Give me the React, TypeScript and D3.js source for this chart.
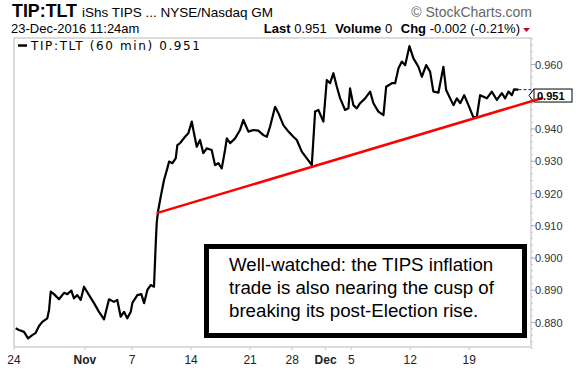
import React from "react";
import * as d3 from "d3";

// trading-day offset from Oct 24 2016 open (hourly bars)
const barPos = [
  0.14, 0.42, 0.85, 1.19, 1.55, 1.84, 2.12, 2.4, 2.82, 2.97, 3.11, 3.39, 3.81, 4.24, 4.52, 4.86, 5.08, 5.36, 5.65, 5.93,
  6.36, 6.78, 7.2, 7.63, 8.05, 8.47, 8.75, 9.04, 9.32, 9.6, 9.89, 10.03, 10.45, 10.79, 11.02, 11.3, 11.58, 11.86, 12.01, 12.09,
  12.2, 12.43, 12.71, 12.99, 13.14, 13.42, 13.7, 13.84, 14.07, 14.49, 14.77, 15.06, 15.25, 15.48, 15.76, 16.04, 16.33, 16.75, 17.03, 17.31,
  17.6, 17.88, 18.03, 18.31, 18.73, 19.15, 19.43, 19.86, 20.28, 20.7, 21.13, 21.42, 21.69, 22.12, 22.4, 22.82, 23.25, 23.67, 23.96, 24.38,
  24.81, 25.23, 25.51, 25.79, 26.21, 26.5, 26.78, 27.06, 27.35, 27.63, 28.05, 28.33, 28.47, 28.75, 29.04, 29.32, 29.75, 30.17, 30.45, 30.87,
  31.3, 31.53, 32.01, 32.29, 32.57, 32.86, 33.14, 33.5, 33.84, 34.26, 34.55, 34.92, 35.25, 35.53, 35.96, 36.38, 36.61, 36.95, 37.23, 37.52,
  37.8, 38.14, 38.5, 38.92, 39.21, 39.49, 40.06, 40.48, 40.91, 41.33, 41.61, 41.89, 42.18, 42.37, 42.74,
];
const closes = [
  0.8782, 0.8777, 0.8771, 0.8751, 0.8761, 0.8768, 0.8789, 0.8802, 0.8813, 0.8839, 0.8896, 0.8888, 0.8872, 0.8892, 0.8888, 0.8899, 0.8875, 0.8885, 0.887, 0.8911,
  0.8885, 0.886, 0.8833, 0.881, 0.8872, 0.8864, 0.887, 0.8818, 0.8833, 0.8813, 0.8833, 0.8861, 0.8885, 0.8888, 0.886, 0.8901, 0.8916, 0.8911, 0.9046, 0.9108,
  0.9144, 0.919, 0.9242, 0.9278, 0.9299, 0.9294, 0.9309, 0.935, 0.9356, 0.9376, 0.9387, 0.9423, 0.9387, 0.9345, 0.9366, 0.9325, 0.934, 0.9335, 0.9288, 0.9294,
  0.9278, 0.9335, 0.9371, 0.9356, 0.9371, 0.9397, 0.9428, 0.9392, 0.9397, 0.9395, 0.9381, 0.9376, 0.9407, 0.9469, 0.9449, 0.9412, 0.9392, 0.9376, 0.9366, 0.933,
  0.9309, 0.9288, 0.9454, 0.9459, 0.9423, 0.9552, 0.9542, 0.9573, 0.9531, 0.9495, 0.9459, 0.9464, 0.9526, 0.9474, 0.9464, 0.948, 0.9495, 0.9516, 0.948, 0.9454,
  0.9443, 0.9531, 0.9542, 0.9542, 0.9588, 0.9609, 0.9598, 0.9657, 0.9619, 0.9593, 0.9562, 0.9598, 0.9578, 0.9516, 0.9513, 0.9593, 0.9521, 0.9495, 0.9474, 0.9495,
  0.948, 0.9505, 0.9474, 0.9436, 0.9438, 0.9505, 0.9495, 0.9516, 0.949, 0.9511, 0.9495, 0.9516, 0.9505, 0.9523, 0.9522,
];

const xTickLabels = ["24", "Nov", "7", "14", "21", "28", "Dec", "5", "12", "19"];
const xTickPos = [0, 6, 10, 15, 20, 23.57, 26.4, 28.57, 33.57, 38.57];
const xTickBold = [false, true, false, false, false, false, true, false, false, false];

const yTickValues = [0.96, 0.94, 0.93, 0.92, 0.91, 0.9, 0.89, 0.88];
const yTickLabels = ["0.960", "0.940", "0.930", "0.920", "0.910", "0.900", "0.890", "0.880"];

const trendPos = [12.09, 44.83];
const trendVals = [0.9139, 0.9497];

const lastLabel = "0.951";
const lastLabelValue = 0.951;

const noteLines = [
  "Well-watched: the TIPS inflation",
  "trade is also nearing the cusp of",
  "breaking its post-Election rise.",
];

export default function App() {
  const W = 579, H = 375;
  const left = 14, right = 531, top = 38, bottom = 347;
  const x = d3.scaleLinear().domain([0, 43.8]).range([left, right]);
  const y = d3.scaleLinear().domain([0.88, 0.96]).range([322.5, 64.5]);

  const pts: [number, number][] = barPos.map((p, i) => [p, closes[i]]);
  const line = d3.line<[number, number]>().x((d) => x(d[0])).y((d) => y(d[1]));
  const trend: [number, number][] = trendPos.map((p, i) => [p, trendVals[i]]);

  const minorTicks = d3.range(0.872, 0.969, 0.002);
  const lastPt = pts[pts.length - 1];
  const lx = 534, ly = y(lastLabelValue) + 2;

  const sans = "'Liberation Sans', Arial, sans-serif";

  return (
    <div style={{ position: "fixed", left: 0, top: 0 }}>
      <svg width={W} height={H} style={{ display: "block", background: "#fff" }}>
        {/* header */}
        <text x={12} y={17} fontFamily={sans} fontWeight="bold" fontSize={18} textLength={65} lengthAdjust="spacingAndGlyphs">TIP:TLT</text>
        <text x={82} y={17} fontFamily={sans} fontSize={13} textLength={191} lengthAdjust="spacingAndGlyphs">iShs TIPS ... NYSE/Nasdaq GM</text>
        <text x={532} y={17} fontFamily={sans} fontSize={14} fill="#666" textAnchor="end">© StockCharts.com</text>
        <text x={11} y={33} fontFamily={sans} fontSize={13}>23-Dec-2016 11:24am</text>
        <text x={520} y={33} fontFamily={sans} fontSize={13} textAnchor="end">
          <tspan fontWeight="bold">Last</tspan>
          <tspan> 0.951  </tspan>
          <tspan fontWeight="bold" dx={5}>Volume</tspan>
          <tspan> 0  </tspan>
          <tspan fontWeight="bold" dx={5}>Chg</tspan>
          <tspan> -0.002 (-0.21%)</tspan>
        </text>
        <path d="M523,28 L530,28 L526.5,32 Z" fill="#cc0033" />

        {/* frame */}
        <rect x={left} y={top} width={right - left} height={bottom - top} fill="none" stroke="#cfcfcf" strokeWidth={1.5} />

        {/* legend */}
        <line x1={18} x2={27} y1={45.5} y2={45.5} stroke="#000" strokeWidth={2.5} />
        <text x={31} y={50} fontFamily="'DejaVu Sans', Verdana, sans-serif" fontSize={12} textLength={169} lengthAdjust="spacing">TIP:TLT (60 min) 0.951</text>

        {/* y axis ticks */}
        {minorTicks.map((v, i) => (
          <line key={"m" + i} x1={right} x2={right + 2} y1={y(v)} y2={y(v)} stroke="#c8c8c8" strokeWidth={1} />
        ))}
        {yTickValues.map((v, i) => (
          <g key={"y" + i}>
            <line x1={right} x2={right + 4} y1={y(v)} y2={y(v)} stroke="#b0b0b0" strokeWidth={1} />
            <text x={535} y={y(v) + 4} fontFamily={sans} fontSize={11} fill="#333">{yTickLabels[i]}</text>
          </g>
        ))}

        {/* x axis */}
        {xTickPos.map((p, i) => (
          <g key={"x" + i}>
            <line x1={x(p)} x2={x(p)} y1={bottom} y2={bottom + 3} stroke="#c8c8c8" strokeWidth={1} />
            <text x={x(p)} y={364} textAnchor="middle" fontFamily={sans} fontSize={12} fontWeight={xTickBold[i] ? "bold" : "normal"} fill="#222">{xTickLabels[i]}</text>
          </g>
        ))}

        {/* last value dashed marker */}
        <line x1={x(lastPt[0])} x2={right} y1={y(lastPt[1])} y2={y(lastPt[1])} stroke="#0000ff" strokeWidth={1} strokeDasharray="3,2" />

        {/* price line */}
        <path d={line(pts) || ""} fill="none" stroke="#000" strokeWidth={2.2} strokeLinejoin="round" />

        {/* last value label */}
        <path d={`M${lx},${ly - 6.5} L${lx - 5},${ly} L${lx},${ly + 6.5}`} fill="#fff" stroke="#000" strokeWidth={1} />
        <rect x={lx} y={ly - 6.5} width={38} height={13} fill="#fff" stroke="#000" strokeWidth={1} />

        {/* trend line */}
        <path d={line(trend) || ""} fill="none" stroke="#ff0000" strokeWidth={2.5} />

        <text x={lx + 3} y={ly + 4} fontFamily={sans} fontSize={11} fontWeight="bold">{lastLabel}</text>

        {/* annotation box */}
        <rect x={206.5} y={246.5} width={318} height={89} fill="#fff" stroke="#000" strokeWidth={5} />
        {noteLines.map((t, i) => (
          <text key={"n" + i} x={229} y={271 + i * 23} fontFamily={sans} fontSize={18.7} fill="#000">{t}</text>
        ))}
      </svg>
    </div>
  );
}
